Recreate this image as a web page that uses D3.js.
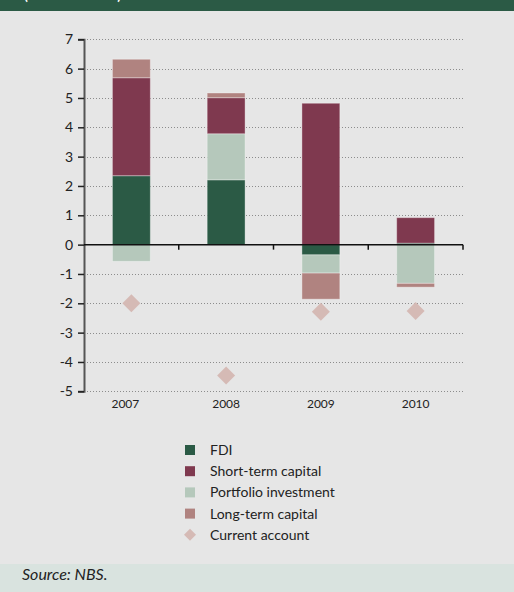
<!DOCTYPE html>
<html>
<head>
<meta charset="utf-8">
<script src="https://cdn.jsdelivr.net/npm/d3@7"></script>
<style>
  html, body { margin: 0; padding: 0; background: #e6e6e6; }
  svg { display: block; }
</style>
</head>
<body>
<svg id="chart" width="514" height="592"></svg>
<script>
// Capital flows by component (EUR bn) and the current account balance
const years = ["2007", "2008", "2009", "2010"];
const fdi = [2.35, 2.21, -0.35, 0.05];
const shortTerm = [3.34, 1.23, 4.82, 0.87];
const portfolio = [-0.57, 1.57, -0.62, -1.32];
const longTerm = [0.63, 0.16, -0.89, -0.13];
const currentAccount = [-2.0, -4.46, -2.29, -2.26];
const yTicks = [7, 6, 5, 4, 3, 2, 1, 0, -1, -2, -3, -4, -5];

const seriesNames = ["FDI", "Short-term capital", "Portfolio investment", "Long-term capital"];
const seriesColors = {
  "FDI": "#2b5a45",
  "Short-term capital": "#7f394f",
  "Portfolio investment": "#b5c8bb",
  "Long-term capital": "#b08380"
};
const caColor = "#d5bab5";

// stacking order (closest to the zero line first)
const stackKeys = ["FDI", "Portfolio investment", "Short-term capital", "Long-term capital"];
const rows = years.map((y, i) => ({
  year: y,
  "FDI": fdi[i],
  "Short-term capital": shortTerm[i],
  "Portfolio investment": portfolio[i],
  "Long-term capital": longTerm[i]
}));

const svg = d3.select("#chart");
const font = "Lato, 'Open Sans', sans-serif";

// header band
svg.append("rect").attr("x", 0).attr("y", 0).attr("width", 514).attr("height", 11).attr("fill", "#2b5a45");
svg.append("text").attr("x", 24).attr("y", 0)
  .attr("fill", "#ffffff").attr("font-family", font).attr("font-weight", "bold")
  .attr("font-size", 14).text("(in EUR billions)");

// source band
svg.append("rect").attr("x", 0).attr("y", 564).attr("width", 514).attr("height", 28).attr("fill", "#d9e3df");
svg.append("text").attr("x", 22).attr("y", 580)
  .attr("fill", "#222").attr("font-family", font).attr("font-style", "italic")
  .attr("font-size", 16).text("Source: NBS.");

const x = d3.scaleBand().domain(years).range([84, 463]).paddingInner(0.6).paddingOuter(0.3);
const xb = d3.scaleBand().domain(years).range([84, 463]);
const y = d3.scaleLinear().domain([-5, 7]).range([391.3, 39.3]);

// dotted gridlines
svg.append("g").selectAll("line")
  .data(yTicks.filter(t => t !== 0))
  .join("line")
  .attr("x1", 84).attr("x2", 463)
  .attr("y1", d => Math.round(y(d)) + 0.5).attr("y2", d => Math.round(y(d)) + 0.5)
  .attr("stroke", "#8c8c8c").attr("stroke-width", 1).attr("stroke-dasharray", "1,2");

// stacked bars
const stack = d3.stack().keys(stackKeys).offset(d3.stackOffsetDiverging);
const layers = stack(rows);
svg.append("g").selectAll("g")
  .data(layers)
  .join("g")
  .attr("fill", d => seriesColors[d.key])
  .selectAll("rect")
  .data(d => d)
  .join("rect")
  .attr("x", d => x(d.data.year))
  .attr("width", x.bandwidth())
  .attr("y", d => y(Math.max(d[0], d[1])))
  .attr("height", d => Math.abs(y(d[0]) - y(d[1])))
  .attr("stroke", "rgba(255,255,255,0.35)")
  .attr("stroke-width", 1);

// current account markers
const diamond = d3.symbol().type(d3.symbolDiamond2).size(206);
svg.append("g").selectAll("path")
  .data(currentAccount)
  .join("path")
  .attr("d", diamond)
  .attr("transform", (d, i) => `translate(${x(years[i]) + x.bandwidth() / 2},${y(d)})`)
  .attr("fill", caColor);

// y axis
const yAxis = d3.axisLeft(y).tickValues(yTicks).tickSize(6).tickPadding(5).tickFormat(d => String(d));
const gy = svg.append("g").attr("transform", "translate(84,0)").call(yAxis);
gy.select(".domain").attr("stroke", "#555").attr("stroke-width", 2);
gy.selectAll(".tick line").attr("stroke", "#222").attr("stroke-width", 1.5);
gy.selectAll(".tick text").attr("font-family", font).attr("font-size", 14).attr("fill", "#222");

// zero line with category separators
const gx = svg.append("g").attr("transform", `translate(0,${y(0)})`);
gx.append("line").attr("x1", 84).attr("x2", 463).attr("stroke", "#111").attr("stroke-width", 1.5);
gx.selectAll("line.sep")
  .data(years)
  .join("line")
  .attr("class", "sep")
  .attr("x1", d => xb(d) + xb.bandwidth()).attr("x2", d => xb(d) + xb.bandwidth())
  .attr("y1", 0).attr("y2", 5)
  .attr("stroke", "#111").attr("stroke-width", 1.5);

// year labels
svg.append("g").selectAll("text")
  .data(years)
  .join("text")
  .attr("x", d => x(d) + x.bandwidth() / 2 - (d === "2007" ? 6 : 0))
  .attr("y", 408)
  .attr("text-anchor", "middle")
  .attr("font-family", font).attr("font-size", 12).attr("fill", "#222")
  .text(d => d);

// legend
const legendItems = seriesNames.concat(["Current account"]);
const lg = svg.append("g").selectAll("g")
  .data(legendItems)
  .join("g")
  .attr("transform", (d, i) => `translate(190,${450 + i * 21.2})`);
lg.each(function(d) {
  const g = d3.select(this);
  if (d === "Current account") {
    g.append("path").attr("d", d3.symbol().type(d3.symbolDiamond2).size(92)).attr("fill", caColor);
  } else {
    g.append("rect").attr("x", -5).attr("y", -5).attr("width", 10).attr("height", 10).attr("fill", seriesColors[d]);
  }
  g.append("text").attr("x", 20).attr("y", 5)
    .attr("font-family", font).attr("font-size", 14).attr("fill", "#222").text(d);
});
</script>
</body>
</html>
